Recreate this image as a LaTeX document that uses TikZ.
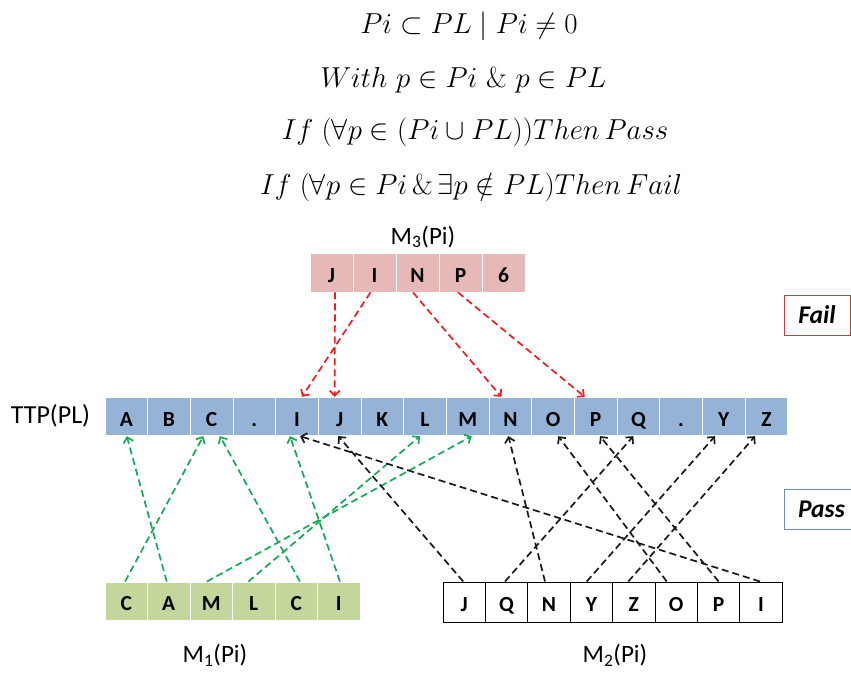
\documentclass[tikz,border=0pt]{standalone}
\usepackage[no-math]{fontspec}
\newfontfamily\calibri{Carlito}
\usetikzlibrary{arrows.meta,calc}
\definecolor{cellblue}{RGB}{149,179,215}
\definecolor{cellpink}{RGB}{230,185,184}
\definecolor{cellgreen}{RGB}{195,214,155}
\definecolor{arrred}{RGB}{235,30,35}
\definecolor{arrgreen}{RGB}{20,170,85}
\definecolor{arrblack}{RGB}{25,25,25}
\definecolor{failred}{RGB}{192,60,70}
\definecolor{passblue}{RGB}{110,140,180}
\begin{document}
\begin{tikzpicture}[x=1pt,y=1pt,
  cell/.style={inner sep=0pt, line width=0.8pt, draw=white,
    font=\calibri\bfseries\fontsize{21.5}{21.5}\selectfont, text height=19.5pt, text depth=0pt},
  lbl/.style={inner sep=0pt, font=\calibri\fontsize{25}{25}\selectfont},
  formula/.style={inner sep=0pt, anchor=base, scale=1.16, transform shape, font=\fontsize{24.88}{30}\selectfont},
  status/.style={inner sep=0pt, line width=1pt, minimum height=40pt, font=\calibri\bfseries\itshape\fontsize{25.5}{25.5}\selectfont},
  arr/.style={dash pattern=on 7pt off 4pt, line width=1.7pt, -{Straight Barb[length=5pt,width=10pt]}},
  redarr/.style={arr, draw=arrred},
  greenarr/.style={arr, draw=arrgreen},
  blackarr/.style={arr, draw=arrblack}]
\useasboundingbox (0,0) rectangle (851,-675);

% formulas
\node[formula] (f1) at (469,-33) {$Pi\subset PL\mid Pi\neq 0$};
\node[formula] (f2) at (463.5,-87.5) {$With\ p\in Pi\ \&\ p\in PL$};
\node[formula] (f3) at (475,-139) {$If\;(\forall p\in(Pi\cup PL))Then\,Pass$};
\node[formula] (f4) at (471,-194) {$If\;(\forall p\in Pi\,\&\,\exists p\notin PL)Then\,Fail$};

% TTP row
\foreach \l [count=\i] in {A,B,C,.,I,J,K,L,M,N,O,P,Q,.,Y,Z}
  \node[cell, fill=cellblue, minimum width=42.67pt, minimum height=38.5pt] (t\i) at ({105+(\i-0.5)*42.67},-416.5) {\l};
\node[lbl, font=\calibri\fontsize{26}{26}\selectfont] (ttplbl) at (50.5,-416) {TTP(PL)};

% M3 row
\foreach \l [count=\i] in {J,I,N,P,6}
  \node[cell, fill=cellpink, minimum width=43pt, minimum height=39pt] (m3\i) at ({310+(\i-0.5)*43},-272.5) {\l};
\node[lbl] (m3lbl) at (423,-237) {M\textsubscript{3}(Pi)};

% M1 row
\foreach \l [count=\i] in {C,A,M,L,C,I}
  \node[cell, fill=cellgreen, minimum width=42.5pt, minimum height=38pt] (m1\i) at ({105+(\i-0.5)*42.5},-601) {\l};
\node[lbl] (m1lbl) at (215,-655) {M\textsubscript{1}(Pi)};

% M2 row
\foreach \l [count=\i] in {J,Q,N,Y,Z,O,P,I}
  \node[cell, draw=black, line width=1pt, fill=white, minimum width=42.4pt, minimum height=40pt] (m2\i) at ({443+(\i-0.5)*42.4},-602) {\l};
\node[lbl] (m2lbl) at (615,-655) {M\textsubscript{2}(Pi)};

% status boxes
\node[status, draw=failred, minimum width=66pt] (fail) at (817,-315) {Fail};
\node[status, draw=passblue, minimum width=78pt, text width=72pt, align=left] (pass) at (823,-509) {\hspace*{11pt}Pass};

% red arrows (M3 -> TTP)
\draw[redarr] ([xshift=3.5pt]m31.south) -- ([xshift=-5pt]t6.north);
\draw[redarr] ([xshift=-4pt]m32.south) -- ([xshift=5pt]t5.north);
\draw[redarr] ([xshift=-4.5pt]m33.south) -- ([xshift=-9pt]t10.north);
\draw[redarr] ([xshift=-2.5pt]m34.south) -- ([xshift=-11pt]t12.north);

% green arrows (M1 -> TTP)
\draw[greenarr] ([xshift=-1.2pt]m11.north) -- ([xshift=-8.4pt]t3.south);
\draw[greenarr] ([xshift=-2pt]m12.north) -- ([xshift=0.4pt]t1.south);
\draw[greenarr] ([xshift=-4.5pt]m13.north) -- ([xshift=4pt]t9.south);
\draw[greenarr] ([xshift=-5.4pt]m14.north) -- ([xshift=-5pt]t8.south);
\draw[greenarr] ([xshift=3.7pt]m15.north) -- ([xshift=8.3pt]t3.south);
\draw[greenarr] ([xshift=1.2pt]m16.north) -- ([xshift=-7pt]t5.south);

% black arrows (M2 -> TTP)
\draw[blackarr] ([xshift=-1pt]m21.north) -- ([xshift=-1.4pt]t6.south);
\draw[blackarr] ([xshift=-1.6pt]m22.north) -- ([xshift=-5pt]t13.south);
\draw[blackarr] ([xshift=-4pt]m23.north) -- ([xshift=-2pt]t10.south);
\draw[blackarr] ([xshift=-4.7pt]m24.north) -- ([xshift=-8.7pt]t15.south);
\draw[blackarr] ([xshift=-5.5pt]m25.north) -- ([xshift=-11.3pt]t16.south);
\draw[blackarr] ([xshift=-9.5pt]m26.north) -- ([xshift=5.3pt]t11.south);
\draw[blackarr] ([xshift=0pt]m27.north) -- ([xshift=4.3pt]t12.south);
\draw[blackarr] ([xshift=-1pt]m28.north) -- ([xshift=3pt]t5.south);
\end{tikzpicture}
\end{document}
